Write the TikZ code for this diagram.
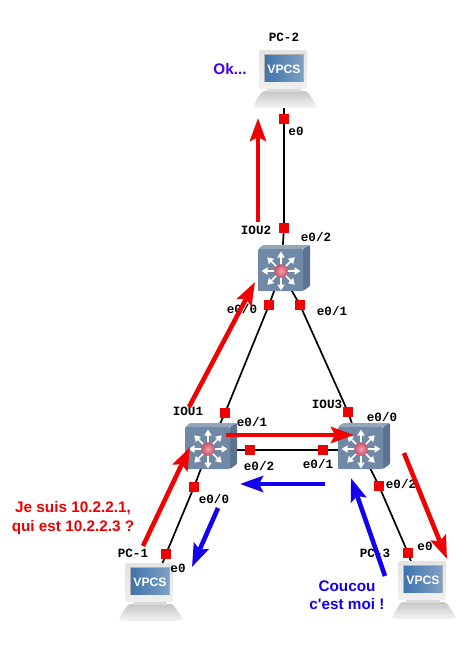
\documentclass[tikz,border=0pt]{standalone}
\usepackage{fontspec}
\setmainfont{Liberation Sans}
\newfontfamily\monof{Liberation Mono}
\newfontfamily\msgf{Liberation Sans}
\usetikzlibrary{arrows.meta,shadings}
\definecolor{swfront}{HTML}{7089A6}
\definecolor{swtop}{HTML}{92A6BC}
\definecolor{swside}{HTML}{5C7390}
\definecolor{redport}{HTML}{F00000}
\definecolor{msgblue}{HTML}{1400F0}
\definecolor{okblue}{HTML}{4A00E8}
\definecolor{scrA}{HTML}{3F74AD}
\definecolor{scrB}{HTML}{7FA0C4}
\definecolor{ballc}{HTML}{E8607C}
\tikzset{
 x=1pt,y=-1pt,
 port/.style={fill=redport,draw=none,minimum size=10pt,inner sep=0,outer sep=0},
 link/.style={draw=black,line width=1.7pt},
 lbl/.style={font=\monof\bfseries\fontsize{12.6}{13}\selectfont,text=black,inner sep=0},
 redarrow/.style={draw=redport,line width=4.6pt,-{Stealth[length=23pt,width=16pt,inset=4pt]}},
 bluearrow/.style={draw=msgblue,line width=4.6pt,-{Stealth[length=23pt,width=16pt,inset=4pt]}},
 msg/.style={font=\msgf\bfseries\fontsize{15.3}{18.5}\selectfont,inner sep=0,align=center},
 anchorpt/.style={inner sep=0,minimum size=0pt},
 switch/.pic={
  \fill[swtop,rounded corners=1pt] (-23,-23) -- (-18,-27) -- (29,-27) -- (22,-23) -- cycle;
  \fill[swside,rounded corners=1pt] (22,-23) -- (29,-27) -- (29,14) -- (22,19) -- cycle;
  \fill[swfront,rounded corners=1pt] (-23,-23) rectangle (22,19);
  \foreach \a in {0,45,...,315}{
   \draw[white,line width=1.7pt,-{Triangle[length=6pt,width=7pt]}] (0,-1) -- ++(\a:19.5);
  }
  \shade[inner color=ballc!60!white,outer color=ballc!85!black] (0,-1) circle (6.8);
 },
 pcicon/.pic={
  \shade[top color=gray!45,bottom color=gray!8,rounded corners=3pt]
    (-31,22) -- (-22,7) -- (23,7) -- (33,22) -- (32,24) -- (-30,24) -- cycle;
  \fill[gray!30] (-17,3) rectangle (17,8);
  \shade[top color=gray!22,bottom color=gray!12,rounded corners=2pt] (-25,-34) rectangle (23,5);
  \fill[gray!60] (-20,-30) rectangle (20,-2);
  \shade[left color=scrA,right color=scrB] (-19,-29) rectangle (19,-3);
  \node[font=\bfseries\fontsize{12.2}{13}\selectfont,text=white,inner sep=0] at (0,-15) {VPCS};
 }
}
\begin{document}
\begin{tikzpicture}
\useasboundingbox (0,0) rectangle (474,651);
% device centres
\node[anchorpt] (pc2) at (284,84) {};
\node[anchorpt] (iou2) at (281,272) {};
\node[anchorpt] (iou1) at (208,450) {};
\node[anchorpt] (iou3) at (361,450) {};
\node[anchorpt] (pc1) at (150,597) {};
\node[anchorpt] (pc3) at (423,595) {};
% ports
\node[port] (p2a) at (284,119) {};
\node[port] (p2b) at (284,228) {};
\node[port] (p2c) at (269,305) {};
\node[port] (p2d) at (300,305) {};
\node[port] (p1a) at (225,413) {};
\node[port] (p3a) at (348,412) {};
\node[port] (p1b) at (250,450) {};
\node[port] (p3b) at (323,450) {};
\node[port] (p1c) at (194,487) {};
\node[port] (p3c) at (379,486) {};
\node[port] (pc1p) at (166,554) {};
\node[port] (pc3p) at (408,553) {};
% links
\draw[link] (pc2.center) -- (p2a.center) -- (p2b.center) -- (iou2.center);
\draw[link] (iou2.center) -- (p2c.center) -- (p1a.center) -- (iou1.center);
\draw[link] (iou2.center) -- (p2d.center) -- (p3a.center) -- (iou3.center);
\draw[link] (iou1.center) -- (p1b.center) -- (p3b.center) -- (iou3.center);
\draw[link] (iou1.center) -- (p1c.center) -- (pc1p.center) -- (pc1.center);
\draw[link] (iou3.center) -- (p3c.center) -- (pc3p.center) -- (pc3.center);
% devices
\pic at (pc2) {pcicon};
\pic at (pc1) {pcicon};
\pic at (pc3) {pcicon};
\pic at (iou2) {switch};
\pic at (iou1) {switch};
\pic at (iou3) {switch};
% ports on top
\foreach \q in {p2a,p2b,p2c,p2d,p1a,p3a,p1b,p3b,p1c,p3c,pc1p,pc3p}{
 \fill[redport] (\q.north west) rectangle (\q.south east);
}
% labels
\node[lbl] (tpc2) at (284,37) {PC-2};
\node[lbl] (t1) at (296,131) {e0};
\node[lbl] (tiou2) at (256,230) {IOU2};
\node[lbl] (t2) at (316,237) {e0/2};
\node[lbl] (t3) at (242,309) {e0/0};
\node[lbl] (t4) at (332,311) {e0/1};
\node[lbl] (tiou1) at (188,411) {IOU1};
\node[lbl] (tiou3) at (327,404) {IOU3};
\node[lbl] (t5) at (252,422) {e0/1};
\node[lbl] (t6) at (382,417) {e0/0};
\node[lbl] (t7) at (259,466) {e0/2};
\node[lbl] (t8) at (318,464) {e0/1};
\node[lbl] (t9) at (214,499) {e0/0};
\node[lbl] (t10) at (401,484) {e0/2};
\node[lbl] (tpc1) at (133,553) {PC-1};
\node[lbl] (t11) at (178,568) {e0};
\node[lbl] (tpc3) at (375,553) {PC-3};
\node[lbl] (t12) at (425,546) {e0};
% messages
\node[msg,text=okblue] (ok) at (230,69) {Ok...};
\node[msg,text=redport] (je) at (73,518) {Je suis 10.2.2.1,\\qui est 10.2.2.3 ?};
\node[msg,text=msgblue] (co) at (347,595) {Coucou\\c'est moi !};
% arrows
\coordinate (a1s) at (258,222); \coordinate (a1e) at (258,118);
\coordinate (a2s) at (189,407); \coordinate (a2e) at (255,282);
\coordinate (a3s) at (226,435); \coordinate (a3e) at (354,435);
\coordinate (a4s) at (404,453); \coordinate (a4e) at (447,559);
\coordinate (a5s) at (143,546); \coordinate (a5e) at (190,447);
\coordinate (b1s) at (325,484); \coordinate (b1e) at (240,484);
\coordinate (b2s) at (218,508); \coordinate (b2e) at (192,567);
\coordinate (b3s) at (385,576); \coordinate (b3e) at (351,478);
\draw[redarrow] (a1s) -- (a1e);
\draw[redarrow] (a2s) -- (a2e);
\draw[redarrow] (a3s) -- (a3e);
\draw[redarrow] (a4s) -- (a4e);
\draw[redarrow] (a5s) -- (a5e);
\draw[bluearrow] (b1s) -- (b1e);
\draw[bluearrow] (b2s) -- (b2e);
\draw[bluearrow] (b3s) -- (b3e);
\end{tikzpicture}
\end{document}
